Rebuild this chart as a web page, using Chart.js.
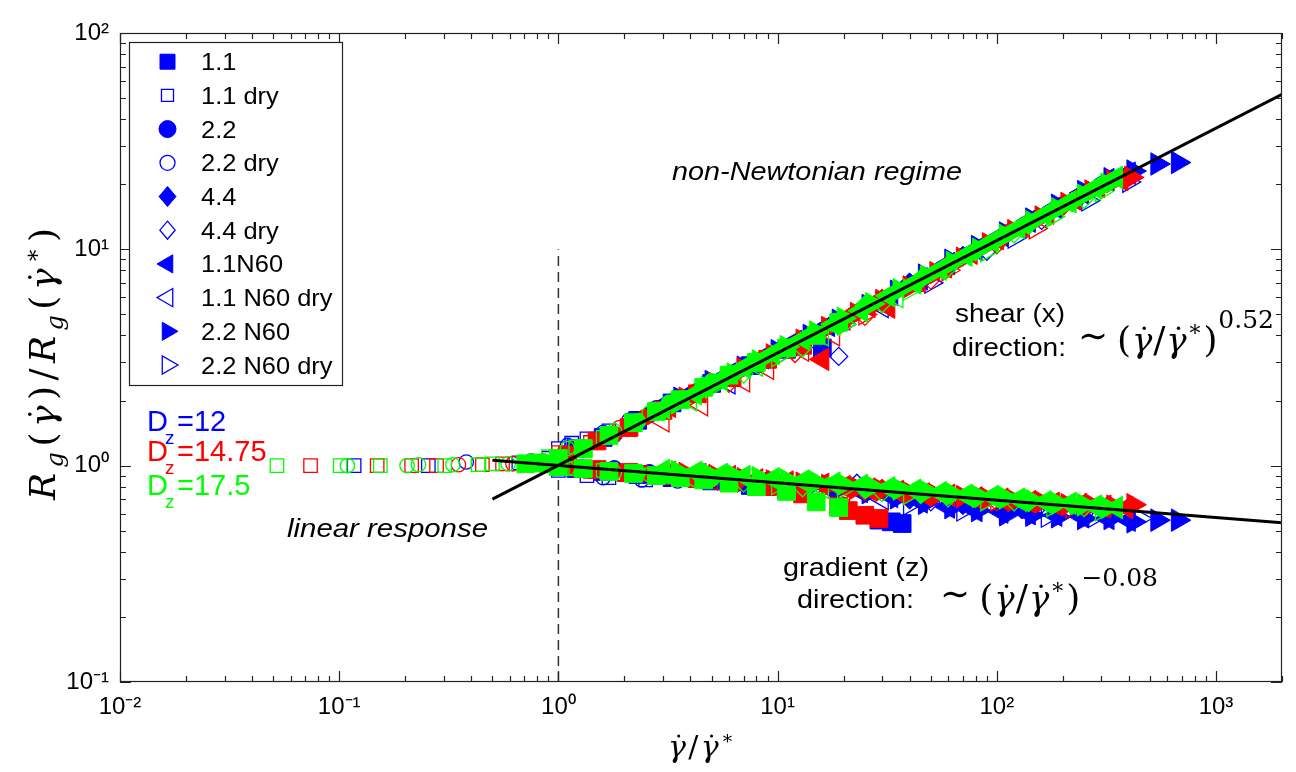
<!DOCTYPE html>
<html><head><meta charset="utf-8">
<script src="https://cdn.jsdelivr.net/npm/chart.js@4.4.0/dist/chart.umd.min.js"></script>
<style>html,body{margin:0;padding:0;background:#fff;}canvas{display:block;}</style>
</head><body>
<canvas id="c" width="1296" height="772"></canvas>
<script>
// ---------------- tick values / labels ----------------
const xTickValues = [0.01, 0.1, 1, 10, 100, 1000];
const xTickLabels = ['10⁻²', '10⁻¹', '10⁰', '10¹', '10²', '10³'];
const yTickValues = [0.1, 1, 10, 100];
const yTickLabels = ['10⁻¹', '10⁰', '10¹', '10²'];
const xRange = [0.01, 2000];
const yRange = [0.1, 100];

// ---------------- legend / group labels ----------------
const legendLabels = ['1.1', '1.1 dry', '2.2', '2.2 dry', '4.4', '4.4 dry', '1.1N60', '1.1 N60 dry', '2.2 N60', '2.2 N60 dry'];
const dzValues = ['12', '14.75', '17.5'];

// ---------------- fit lines (end points) ----------------
const shearFit = [[0.5, 0.70], [2000, 52]];
const gradientFit = [[0.5, 1.06], [2000, 0.545]];
const crossoverLine = [[1, 0.1], [1, 10]];

// ---------------- D_z = 12 (blue) ----------------
const b_sq = [[1.2,1.2],[1.6,1.35],[2.3,1.62],[3.3,1.95],[5,2.4],[7.5,2.9],[11,3.45],[16,3.5],
  [1.2,0.97],[1.6,0.94],[2.3,0.91],[3.3,0.88],[5,0.85],[7.5,0.81],[11,0.77],[29,0.56],[33,0.55],[37,0.54]];
const b_sqDry = [[0.117,1.0],[0.255,1.0],[0.66,1.03],[0.9,1.08],
  [1.0,1.2],[1.15,1.27],[1.35,1.33],[1.7,1.45],
  [1.0,0.95],[1.35,0.9],[1.7,0.88],[2.5,0.86]];
const b_circ = [[1.8,1.39],[2.6,1.72],[1.8,0.97],[2.6,0.93]];
const b_circDry = [[0.38,1.04],[0.75,1.05],
  [1.1,1.24],[1.6,1.42],[2.1,1.62],[2.8,1.85],[3.5,2.08],[4.7,2.35],
  [1.6,0.88],[2.4,0.86],[3.5,0.85],[4.0,0.86]];
const b_dia = [[40,7.0],[70,9.3],[130,12.7],[240,17.5],[40,0.7],[70,0.66],[130,0.63],[240,0.6]];
const b_diaDry = [[12,3.5],[19,3.2],[45,7.0],[90,9.8],[160,13.6],[300,19.5],
  [23,0.83],[50,0.68],[80,0.64],[150,0.62],[250,0.6]];
const b_triL = [[3,1.9],[4.3,2.25],[6,2.65],[8.5,3.15],[12,3.75],[17,4.45],[24,5.3],[33,6.2],[45,7.3],[60,8.6],[80,10],[105,11.6],[140,13.5],[185,15.6],[245,18.2],[320,21],[400,22.5],
  [3,0.91],[4.3,0.89],[6,0.86],[8.5,0.84],[12,0.81],[17,0.79],[24,0.76],[33,0.72],[45,0.68],[60,0.65],[80,0.62],[105,0.61],[140,0.6],[185,0.59],[245,0.58],[320,0.57],[400,0.56]];
const b_triLDry = [[6,2.4],[15,3.7],[30,5.4],[15,0.77],[30,0.7],[60,0.64]];
const b_triR = [[3.6,2.05],[5,2.45],[7,2.85],[10,3.4],[14,4.0],[19,4.7],[26,5.5],[35,6.4],[47,7.6],[62,8.9],[82,10.3],[110,11.9],[145,13.8],[190,16],[250,18.5],[330,21.2],[420,23],[540,24.8],[670,25.2],
  [3.6,0.9],[5,0.88],[7,0.85],[10,0.83],[14,0.8],[19,0.78],[26,0.75],[35,0.71],[47,0.67],[62,0.64],[82,0.62],[110,0.6],[145,0.59],[190,0.58],[250,0.57],[330,0.57],[420,0.55],[540,0.56],[670,0.56]];
const b_triRDry = [[20,4.5],[50,7.0],[120,11.3],[260,16.8],[400,20.5],
  [40,0.66],[70,0.62],[110,0.59],[170,0.58],[280,0.58],[450,0.57]];

// ---------------- D_z = 14.75 (red) ----------------
const r_sq = [[1.1,1.12],[1.5,1.3],[2.1,1.5],[3,1.8],[4.3,2.15],[6.2,2.55],[9,3.1],[13,3.6],
  [1.1,0.99],[1.5,0.96],[2.1,0.93],[3,0.9],[4.3,0.87],[6.2,0.84],[9,0.8],[13,0.74],[19,0.65],[21,0.62],[25,0.59],[29,0.57]];
const r_sqDry = [[0.074,1.0],[0.149,1.0],[0.214,1.0],[0.278,1.0],[0.45,1.01],[0.556,1.02],[0.8,1.04],
  [1.0,1.15],[1.4,1.28],[1.0,0.97],[1.4,0.94],[2,0.91]];
const r_circ = [[1.8,1.4],[2.5,1.68],[1.8,0.95],[2.5,0.92]];
const r_circDry = [[0.35,1.01],[0.62,1.02],[0.85,1.05],[1.2,1.22],[1.9,1.5],[1.2,0.96],[1.9,0.92]];
const r_dia = [[30,5.9],[60,8.5],[110,11.7],[200,15.8],[30,0.78],[60,0.73],[110,0.7],[200,0.66]];
const r_diaDry = [[6,2.4],[12,3.3],[25,4.9],[50,7.2],[100,10.5],[6,0.84],[12,0.8],[25,0.76],[50,0.72],[100,0.68]];
const r_triL = [[3.2,1.88],[4.4,2.2],[6,2.6],[8,3.0],[11,3.5],[16,3.1],[20,4.75],[26,5.45],[32,5.4],[44,7.1],[58,8.3],[76,9.6],[100,11.2],[130,12.8],[170,14.7],[225,17.1],[290,19.5],[370,21],
  [3.2,0.93],[4.4,0.91],[6,0.89],[8,0.86],[11,0.84],[16,0.82],[20,0.8],[26,0.78],[35,0.76],[46,0.74],[60,0.73],[80,0.71],[105,0.7],[140,0.68],[180,0.67],[240,0.66],[310,0.65],[390,0.64]];
const r_triLDry = [[3,1.6],[4.5,1.9],[7,2.45],[9,2.8],[13,3.4],[18,4.0],[5,0.86],[10,0.82],[20,0.77]];
const r_triR = [[3.8,2.05],[5.2,2.4],[7,2.8],[9.5,3.25],[13,3.8],[17,4.35],[23,5.05],[30,5.8],[40,6.7],[53,7.8],[70,9.1],[92,10.6],[120,12.2],[160,14.1],[210,16.3],[270,18.6],[340,20.6],[410,21.5],
  [3.8,0.92],[5.2,0.9],[7,0.87],[9.5,0.85],[13,0.83],[17,0.81],[23,0.79],[30,0.77],[40,0.75],[53,0.73],[70,0.72],[92,0.7],[120,0.69],[160,0.68],[210,0.66],[270,0.66],[340,0.65],[420,0.66]];
const r_triRDry = [[10,3.2],[25,5.0],[60,8.0],[150,12.5],[15,0.8],[40,0.74],[100,0.69],[220,0.64]];

// ---------------- D_z = 17.5 (green) ----------------
const g_sq = [[0.71,1.02],[0.8,1.03],[0.9,1.02],
  [1.0,1.08],[1.3,1.2],[1.7,1.38],[2.2,1.58],[2.8,1.78],[3.6,2.02],[4.6,2.3],[6,2.62],[8,3.0],[11,3.5],[15,4.0],[19,4.6],
  [1.0,0.99],[1.3,0.97],[1.7,0.94],[2.2,0.92],[2.8,0.9],[3.6,0.88],[4.6,0.86],[6,0.83],[8,0.8],[11,0.76],[15,0.68],[19,0.64]];
const g_sqDry = [[0.052,1.0],[0.101,1.0],[0.154,1.0],[0.303,1.0],[0.43,1.01],[0.5,1.02],
  [0.9,1.1],[1.2,1.22],[1.6,1.35],[1.2,0.97],[1.6,0.95]];
const g_circ = [[2.3,1.6],[3.2,1.95],[5,2.45],[2.3,0.93],[3.2,0.9],[5,0.87]];
const g_circDry = [[0.109,1.0],[0.204,1.0],[0.23,1.01],[0.33,1.01],[0.59,1.02],[0.75,1.04],
  [1.1,1.2],[1.8,1.45],[2.6,1.75],[1.1,0.97],[1.8,0.93],[2.6,0.91]];
const g_dia = [[25,5.5],[45,7.3],[80,9.8],[140,13],[220,16.5],[25,0.78],[45,0.74],[80,0.71],[140,0.68],[220,0.66]];
const g_diaDry = [[7,2.65],[13,3.5],[30,5.6],[60,8.2],[120,11.8],[250,17],[7,0.83],[13,0.79],[30,0.75],[60,0.71],[120,0.68],[250,0.64]];
const g_triL = [[3,1.85],[4.2,2.15],[5.5,2.5],[7,2.85],[9.5,3.3],[13,3.85],[18,4.5],[24,5.2],[32,6.1],[42,7.0],[55,8.1],[72,9.4],[95,10.9],[125,12.6],[165,14.5],[215,16.6],[280,19.3],[350,21.5],
  [3,0.95],[4.2,0.93],[5.5,0.91],[7,0.89],[9.5,0.87],[13,0.85],[18,0.83],[24,0.81],[32,0.79],[42,0.77],[55,0.75],[72,0.73],[95,0.72],[125,0.7],[165,0.68],[215,0.67],[280,0.65],[350,0.64]];
const g_triLDry = [[4,2.0],[8,2.9],[16,4.0],[35,6.0],[4,0.88],[8,0.84],[16,0.79]];
const g_triR = [[3.5,1.95],[4.8,2.3],[6.3,2.65],[8.2,3.05],[11,3.55],[15,4.15],[20,4.8],[27,5.6],[36,6.5],[48,7.5],[63,8.7],[83,10.0],[110,11.6],[145,13.4],[190,15.4],[250,17.8],[320,20.0],
  [3.5,0.94],[4.8,0.92],[6.3,0.9],[8.2,0.88],[11,0.86],[15,0.84],[20,0.82],[27,0.8],[36,0.78],[48,0.76],[63,0.74],[83,0.72],[110,0.71],[145,0.69],[190,0.67],[250,0.66],[320,0.64]];
const g_triRDry = [[5,2.3],[10,3.2],[20,4.5],[40,6.5],[90,9.8],[180,14.2],[300,18.5],[10,0.82],[20,0.78],[40,0.74],[90,0.69],[180,0.65],[300,0.62]];

const blueSeries  = [b_sq, b_sqDry, b_circ, b_circDry, b_dia, b_diaDry, b_triL, b_triLDry, b_triR, b_triRDry];
const redSeries   = [r_sq, r_sqDry, r_circ, r_circDry, r_dia, r_diaDry, r_triL, r_triLDry, r_triR, r_triRDry];
const greenSeries = [g_sq, g_sqDry, g_circ, g_circDry, g_dia, g_diaDry, g_triL, g_triLDry, g_triR, g_triRDry];

// ---------------- styles ----------------
const COLORS = ['#0000ff', '#ff0000', '#00ff00'];
const markerKinds = [
  {style:'rect', rot:0, filled:true, r:12.5, lr:10.6},
  {style:'rect', rot:0, filled:false, r:9.5, lr:8.5},
  {style:'circle', rot:0, filled:true, r:8, lr:8.5},
  {style:'circle', rot:0, filled:false, r:7.2, lr:7.5},
  {style:'rectRot', rot:0, filled:true, r:10, lr:10},
  {style:'rectRot', rot:0, filled:false, r:9, lr:9},
  {style:'triangle', rot:-90, filled:true, r:13, lr:10.5},
  {style:'triangle', rot:-90, filled:false, r:12, lr:10.5},
  {style:'triangle', rot:90, filled:true, r:13, lr:10.5},
  {style:'triangle', rot:90, filled:false, r:12, lr:10.5}
];

const datasets = [];
[blueSeries, redSeries, greenSeries].forEach((group, gi) => {
  group.forEach((pts, mi) => {
    const k = markerKinds[mi];
    datasets.push({
      label: 'Dz=' + dzValues[gi] + ' ' + legendLabels[mi],
      data: pts,
      showLine: false,
      pointStyle: k.style,
      pointRotation: k.rot,
      pointRadius: k.r,
      pointHoverRadius: k.r,
      pointBackgroundColor: k.filled ? COLORS[gi] : 'rgba(0,0,0,0)',
      pointBorderColor: COLORS[gi],
      pointBorderWidth: k.filled ? 1 : 1.3,
      order: 10 - gi * 3 - (k.filled ? 1 : 0)
    });
  });
});
datasets.push({label:'shear fit', data: shearFit, showLine:true, borderColor:'#000', borderWidth:3, pointRadius:0, order:-2});
datasets.push({label:'gradient fit', data: gradientFit, showLine:true, borderColor:'#000', borderWidth:3, pointRadius:0, order:-2});
datasets.push({label:'crossover', data: crossoverLine, showLine:true, borderColor:'#333', borderWidth:1.5, borderDash:[10,6], pointRadius:0, order:50});

// ---------------- helpers ----------------
function drawMarker(ctx, kind, x, y, r, color) {
  ctx.save();
  ctx.beginPath();
  const rad = kind.rot * Math.PI / 180;
  if (kind.style === 'circle') {
    ctx.arc(x, y, r, 0, Math.PI * 2);
  } else if (kind.style === 'rect') {
    const s = Math.SQRT1_2 * r;
    ctx.rect(x - s, y - s, 2 * s, 2 * s);
  } else if (kind.style === 'rectRot') {
    ctx.moveTo(x, y - r); ctx.lineTo(x + r * 0.85, y); ctx.lineTo(x, y + r); ctx.lineTo(x - r * 0.85, y);
  } else if (kind.style === 'triangle') {
    let a = rad;
    ctx.moveTo(x + Math.sin(a) * r, y - Math.cos(a) * r);
    a += 2 * Math.PI / 3; ctx.lineTo(x + Math.sin(a) * r, y - Math.cos(a) * r);
    a += 2 * Math.PI / 3; ctx.lineTo(x + Math.sin(a) * r, y - Math.cos(a) * r);
  }
  ctx.closePath();
  if (kind.filled) { ctx.fillStyle = color; ctx.fill(); }
  ctx.strokeStyle = color; ctx.lineWidth = kind.filled ? 1 : 1.3; ctx.stroke();
  ctx.restore();
}
function fitText(ctx, text, x, y, font, color, width) {
  ctx.save();
  ctx.font = font; ctx.fillStyle = color; ctx.textAlign = 'left'; ctx.textBaseline = 'alphabetic';
  const w = ctx.measureText(text).width;
  const s = width ? width / w : 1;
  ctx.translate(x, y); ctx.scale(s, 1); ctx.fillText(text, 0, 0);
  ctx.restore();
}
// pieces: [text, font, dy, gapAfter, dotAbove]; extra width is spread into the gaps
function drawPieces(ctx, pieces, x, y, width, color) {
  ctx.save();
  ctx.fillStyle = color || '#000'; ctx.textBaseline = 'alphabetic'; ctx.textAlign = 'left';
  let total = 0;
  const ws = pieces.map(p => { ctx.font = p[1]; const w = ctx.measureText(p[0]).width; total += w + (p[3] || 0); return w; });
  let extra = 0, s = 1;
  if (width) {
    if (width > total) extra = (width - total) / Math.max(1, pieces.length - 1);
    else s = width / total;
  }
  ctx.translate(x, y); ctx.scale(s, 1);
  let cx = 0;
  pieces.forEach((p, i) => {
    ctx.font = p[1];
    ctx.fillText(p[0], cx, p[2] || 0);
    if (p[4]) {
      const fs = parseFloat(p[1].match(/(\d+(\.\d+)?)px/)[1]);
      ctx.beginPath();
      ctx.arc(cx + ws[i] * 0.6, (p[2] || 0) - fs * 0.7, fs * 0.05, 0, Math.PI * 2);
      ctx.fill();
    }
    cx += ws[i] + (p[3] || 0) + extra;
  });
  ctx.restore();
}

const SANS = "'Liberation Sans', Arial, sans-serif";
const SERIF = "'DejaVu Serif', 'Liberation Serif', serif";

const framePlugin = {
  id: 'frame',
  afterDatasetsDraw(chart) {
    const {ctx, chartArea: a, scales: {x, y}} = chart;
    ctx.save();
    ctx.strokeStyle = '#222'; ctx.lineWidth = 1.2;
    ctx.strokeRect(a.left + 0.5, a.top + 0.5, a.right - a.left - 1, a.bottom - a.top - 1);
    ctx.beginPath();
    for (let d = -2; d <= 3; d++) for (let k = 1; k <= 9; k++) {
      const v = k * Math.pow(10, d);
      if (v < xRange[0] || v > xRange[1]) continue;
      const px = Math.round(x.getPixelForValue(v)) + 0.5;
      const L = k === 1 ? 11 : 6;
      ctx.moveTo(px, a.bottom); ctx.lineTo(px, a.bottom - L);
      ctx.moveTo(px, a.top); ctx.lineTo(px, a.top + L);
    }
    for (let d = -1; d <= 2; d++) for (let k = 1; k <= 9; k++) {
      const v = k * Math.pow(10, d);
      if (v < yRange[0] || v > yRange[1]) continue;
      const py = Math.round(y.getPixelForValue(v)) + 0.5;
      const L = k === 1 ? 11 : 6;
      ctx.moveTo(a.left, py); ctx.lineTo(a.left + L, py);
      ctx.moveTo(a.right, py); ctx.lineTo(a.right - L, py);
    }
    ctx.stroke();
    ctx.restore();
  },
  afterDraw(chart) {
    const {ctx} = chart;
    // legend box
    ctx.save();
    ctx.fillStyle = '#fff'; ctx.fillRect(129.5, 42.5, 213, 343);
    ctx.strokeStyle = '#222'; ctx.lineWidth = 1.2; ctx.strokeRect(129.5, 42.5, 213, 343);
    ctx.restore();
    legendLabels.forEach((lab, i) => {
      const yy = 61.7 + i * 33.7;
      const k = markerKinds[i];
      drawMarker(ctx, k, 167.5, yy, k.lr, COLORS[0]);
      ctx.save(); ctx.font = '24px ' + SANS; const w = ctx.measureText(lab).width; ctx.restore();
      fitText(ctx, lab, 201, yy + 8.5, '24px ' + SANS, '#000', w * 1.06);
    });
    // D_z labels
    const dzBase = [431, 461, 495];
    dzValues.forEach((v, i) => {
      fitText(ctx, 'D', 147, dzBase[i], '29px ' + SANS, COLORS[i]);
      fitText(ctx, 'z', 165, dzBase[i] + 13, '19px ' + SANS, COLORS[i]);
      fitText(ctx, '=' + v, 177, dzBase[i], '29px ' + SANS, COLORS[i]);
    });
    // regime annotations
    fitText(ctx, 'non-Newtonian regime', 672, 180, 'italic 26px ' + SANS, '#000', 290);
    fitText(ctx, 'linear response', 287, 537, 'italic 26px ' + SANS, '#000', 201);
    fitText(ctx, 'shear (x)', 955, 322, '26px ' + SANS, '#000', 110);
    fitText(ctx, 'direction:', 952, 356, '26px ' + SANS, '#000', 114);
    fitText(ctx, 'gradient (z)', 783, 576, '26px ' + SANS, '#000', 146);
    fitText(ctx, 'direction:', 797, 608, '26px ' + SANS, '#000', 117);
    const M = '36px ' + SERIF, MI = 'italic 34px ' + SERIF, MS = '22px ' + SERIF, ME = '25px ' + SERIF;
    drawPieces(ctx, [['∼', M, -4, 8], ['(', M, 0, 0], ['γ', MI, 0, 0, true], ['/', M, 0, 0], ['γ', MI, 0, 0, true], ['∗', MS, -16, 0], [')', M, 0, 0], ['0.52', ME, -24, 0]], 1078, 352, 196);
    drawPieces(ctx, [['∼', M, -4, 8], ['(', M, 0, 0], ['γ', MI, 0, 0, true], ['/', M, 0, 0], ['γ', MI, 0, 0, true], ['∗', MS, -16, 0], [')', M, 0, 0], ['−0.08', ME, -24, 0]], 940, 610, 218);
    // x axis title
    drawPieces(ctx, [['γ', 'italic 30px ' + SERIF, 0, 0, true], ['/', '30px ' + SERIF, 0, 0], ['γ', 'italic 30px ' + SERIF, 0, 0, true], ['∗', '19px ' + SERIF, -13, 0]], 668, 757, 66);
    // y axis title (rotated)
    ctx.save();
    ctx.translate(55, 500); ctx.rotate(-Math.PI / 2);
    const YF = '36px ' + SERIF, YI = 'italic 36px ' + SERIF, YS = 'italic 24px ' + SERIF;
    drawPieces(ctx, [['R', YI, 0, 0], ['g', YS, 8, 0], ['(', YF, 0, 0], ['γ', YI, 0, 0, true], [')', YF, 0, 0], ['/', YF, 0, 0],
      ['R', YI, 0, 0], ['g', YS, 8, 0], ['(', YF, 0, 0], ['γ', YI, 0, 0, true], ['∗', '23px ' + SERIF, -15, 0], [')', YF, 0, 0]], 0, 0, 272);
    ctx.restore();
  }
};

Chart.defaults.font.family = SANS;
new Chart(document.getElementById('c'), {
  type: 'scatter',
  data: { datasets },
  options: {
    responsive: false,
    animation: false,
    events: [],
    layout: { padding: { top: 33, right: 1, left: 0, bottom: 0 } },
    plugins: { legend: { display: false }, tooltip: { enabled: false } },
    scales: {
      x: {
        type: 'logarithmic', min: xRange[0], max: xRange[1],
        grid: { display: false, drawTicks: false }, border: { display: false },
        afterBuildTicks: s => { s.ticks = xTickValues.map(v => ({ value: v })); },
        afterFit: s => { s.height = 90; },
        ticks: { autoSkip: false, maxRotation: 0, padding: 11, color: '#000', font: { size: 24 },
          callback: (v, i) => xTickLabels[xTickValues.indexOf(v)] ?? '' }
      },
      y: {
        type: 'logarithmic', min: yRange[0], max: yRange[1],
        grid: { display: false, drawTicks: false }, border: { display: false },
        afterBuildTicks: s => { s.ticks = yTickValues.map(v => ({ value: v })); },
        afterFit: s => { s.width = 120; },
        ticks: { autoSkip: false, padding: 11, color: '#000', font: { size: 24 },
          callback: (v, i) => yTickLabels[yTickValues.indexOf(v)] ?? '' }
      }
    }
  },
  plugins: [framePlugin]
});
</script>
</body></html>
